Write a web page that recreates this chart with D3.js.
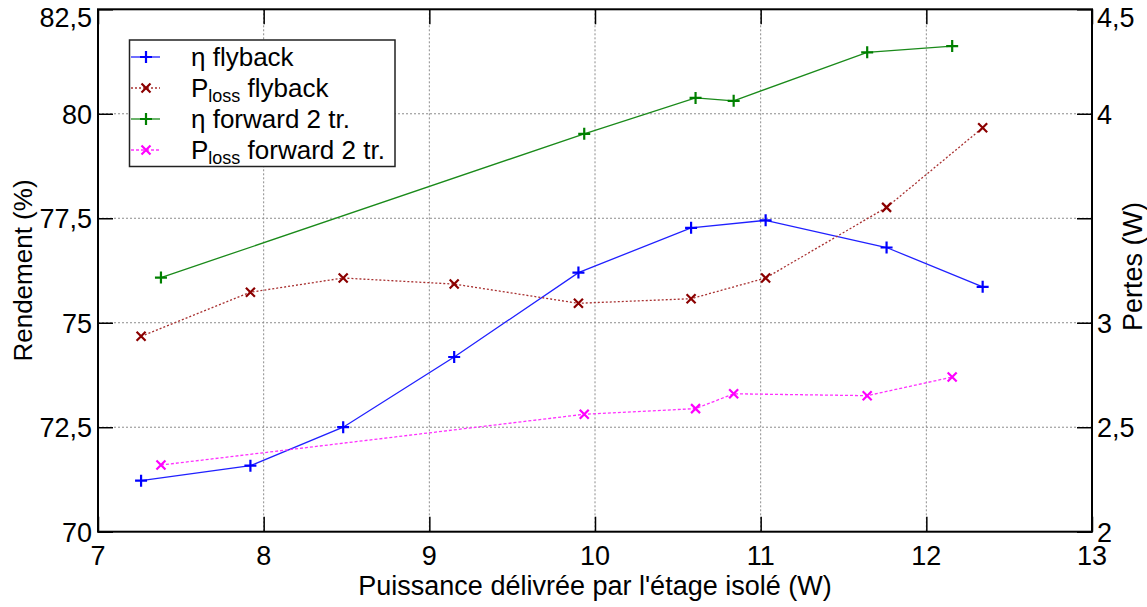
<!DOCTYPE html>
<html>
<head>
<meta charset="utf-8">
<script src="https://cdn.jsdelivr.net/npm/d3@7"></script>
<style>
  body { margin: 0; background: #fff; }
  text { font-family: "Liberation Sans", Arial, sans-serif; fill: #000; }
</style>
</head>
<body>
<div id="container"></div>
<script>
// data
var xFly = [7.26, 7.92, 8.48, 9.15, 9.90, 10.58, 11.03, 11.76, 12.34];
var etaFly = [71.22, 71.58, 72.50, 74.18, 76.20, 77.27, 77.45, 76.80, 75.86];
var lossFly = [2.935, 3.146, 3.214, 3.185, 3.093, 3.115, 3.214, 3.552, 3.933];
var xFwd = [7.38, 9.935, 10.607, 10.837, 11.643, 12.156];
var etaFwd = [76.08, 79.52, 80.38, 80.31, 81.47, 81.62];
var lossFwd = [2.319, 2.562, 2.589, 2.660, 2.651, 2.740];

var xTicks = [7, 8, 9, 10, 11, 12, 13];
var leftTicks = [70, 72.5, 75, 77.5, 80, 82.5];
var rightLabels = [2, 2.5, 3, 4, 4.5];

var width = 1147,
    height = 607,
    margin = { left: 98, top: 9.3, right: 55, bottom: 75.3 },
    g_width = width - margin.left - margin.right,
    g_height = height - margin.top - margin.bottom;

var fmt = function(d) { return String(d).replace(".", ","); };

var svg = d3.select("#container")
            .append("svg")
            .attr("width", width)
            .attr("height", height);

var g = svg.append("g")
           .attr("transform", "translate(" + margin.left + "," + margin.top + ")");

var scale_x = d3.scaleLinear().domain([7, 13]).range([0, g_width]);
var scale_y = d3.scaleLinear().domain([70, 82.5]).range([g_height, 0]);
var scale_r = d3.scaleLinear().domain([2, 4.5]).range([g_height, 0]);

// grid
var grid = g.append("g").attr("stroke", "#8c8c8c").attr("stroke-width", 1).attr("stroke-dasharray", "2,2");
xTicks.slice(1, -1).forEach(function(t) {
  grid.append("line").attr("x1", scale_x(t)).attr("x2", scale_x(t)).attr("y1", 0).attr("y2", g_height);
});
leftTicks.slice(1, -1).forEach(function(t) {
  grid.append("line").attr("x1", 0).attr("x2", g_width).attr("y1", scale_y(t)).attr("y2", scale_y(t));
});

// axes, ticks pointing inward, mirrored on all sides
var minorX = d3.range(7, 13.01, 0.5),
    minorY = d3.range(70, 82.51, 0.5);

function tickAxis(axis, pos, major, minor) {
  var a = g.append("g").attr("transform", pos);
  a.call(axis(minor).tickSize(-8).tickFormat(""));
  a.call(axis(major).tickSize(-15).tickFormat(""));
  a.selectAll(".domain").remove();
  a.selectAll("line").attr("stroke", "#000").attr("stroke-width", 1.5);
}
tickAxis(function(v) { return d3.axisBottom(scale_x).tickValues(v); }, "translate(0," + g_height + ")", xTicks, minorX);
tickAxis(function(v) { return d3.axisTop(scale_x).tickValues(v); }, "translate(0,0)", xTicks, minorX);
tickAxis(function(v) { return d3.axisLeft(scale_y).tickValues(v); }, "translate(0,0)", leftTicks, minorY);
tickAxis(function(v) { return d3.axisRight(scale_y).tickValues(v); }, "translate(" + g_width + ",0)", leftTicks, minorY);

g.append("rect")
 .attr("width", g_width).attr("height", g_height)
 .attr("fill", "none").attr("stroke", "#000").attr("stroke-width", 2);

// tick labels
g.selectAll(".xl").data(xTicks).enter().append("text")
 .attr("x", function(d) { return scale_x(d); })
 .attr("y", g_height + 33)
 .attr("text-anchor", "middle")
 .attr("font-size", 27)
 .text(fmt);

g.selectAll(".yl").data(leftTicks).enter().append("text")
 .attr("x", -6)
 .attr("y", function(d) { return scale_y(d) + (d == 82.5 ? 18 : 10); })
 .attr("text-anchor", "end")
 .attr("font-size", 27)
 .text(fmt);

g.selectAll(".rl").data(rightLabels).enter().append("text")
 .attr("x", g_width + 5)
 .attr("y", function(d) { return scale_r(d) + (d == 4.5 ? 18 : 10); })
 .attr("font-size", 27)
 .text(fmt);

// axis titles
svg.append("text")
   .attr("x", margin.left + g_width / 2).attr("y", 595)
   .attr("text-anchor", "middle").attr("font-size", 27)
   .text("Puissance délivrée par l'étage isolé (W)");
svg.append("text")
   .attr("transform", "translate(32," + (margin.top + g_height / 2) + ") rotate(-90)")
   .attr("text-anchor", "middle").attr("font-size", 26)
   .text("Rendement (%)");
svg.append("text")
   .attr("transform", "translate(1142," + (margin.top + g_height / 2 - 4) + ") rotate(-90)")
   .attr("text-anchor", "middle").attr("font-size", 27)
   .text("Pertes (W)");

// series
var plus = "M-6,0H6M0,-6V6",
    cross = "M-4.5,-4.5L4.5,4.5M-4.5,4.5L4.5,-4.5";

var series = [
  { xs: xFly, ys: etaFly, sc: scale_y, color: "#0000ff", line: "#2020ff", dash: null, marker: plus },
  { xs: xFly, ys: lossFly, sc: scale_r, color: "#8b0000", line: "#a83030", dash: "2,2", marker: cross },
  { xs: xFwd, ys: etaFwd, sc: scale_y, color: "#008000", line: "#1a8a1a", dash: null, marker: plus },
  { xs: xFwd, ys: lossFwd, sc: scale_r, color: "#ff00ff", line: "#ff30ff", dash: "3,2", marker: cross }
];

series.forEach(function(s) {
  var pts = s.xs.map(function(x, i) { return [x, s.ys[i]]; });
  var line_generator = d3.line()
        .x(function(d) { return scale_x(d[0]); })
        .y(function(d) { return s.sc(d[1]); });
  g.append("path")
   .attr("d", line_generator(pts))
   .attr("fill", "none")
   .attr("stroke", s.line)
   .attr("stroke-width", 1.3)
   .attr("stroke-dasharray", s.dash);
  g.selectAll(null).data(pts).enter().append("path")
   .attr("transform", function(d) { return "translate(" + scale_x(d[0]) + "," + s.sc(d[1]) + ")"; })
   .attr("d", s.marker)
   .attr("stroke", s.color)
   .attr("stroke-width", 2.2)
   .attr("fill", "none");
});

// legend
var legendNames = [["η flyback"], ["P", "loss", " flyback"], ["η forward 2 tr."], ["P", "loss", " forward 2 tr."]];
var leg = svg.append("g");
leg.append("rect")
   .attr("x", 129.5).attr("y", 40).attr("width", 265.5).attr("height", 126.5)
   .attr("fill", "#fff").attr("stroke", "#222").attr("stroke-width", 1.5);
series.forEach(function(s, i) {
  var cy = 57 + i * 31;
  leg.append("line")
     .attr("x1", 131).attr("x2", 160).attr("y1", cy).attr("y2", cy)
     .attr("stroke", s.line).attr("stroke-width", 1.3).attr("stroke-dasharray", s.dash);
  leg.append("path")
     .attr("transform", "translate(146," + cy + ")")
     .attr("d", s.marker).attr("stroke", s.color).attr("stroke-width", 2.2).attr("fill", "none");
  var t = leg.append("text").attr("x", 191).attr("y", cy + 9).attr("font-size", 26);
  var parts = legendNames[i];
  if (parts.length == 1) {
    t.text(parts[0]);
  } else {
    t.append("tspan").text(parts[0]);
    t.append("tspan").attr("font-size", 18).attr("dy", 5).text(parts[1]);
    t.append("tspan").attr("dy", -5).text(parts[2]);
  }
});
</script>
</body>
</html>
